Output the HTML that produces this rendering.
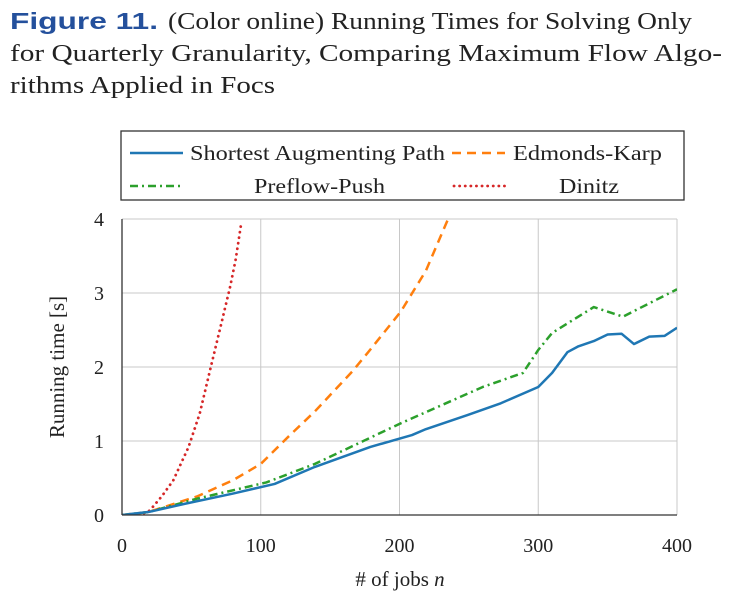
<!DOCTYPE html>
<html><head><meta charset="utf-8"><style>
html,body{margin:0;padding:0;background:#fff;}
svg{display:block;}
</style></head><body>
<svg id="chart" width="730" height="597" viewBox="0 0 730 597" font-family="Liberation Serif, serif" fill="#222">
<g>
<text x="10" y="29" font-family="Liberation Sans, Arial, sans-serif" font-weight="bold" font-size="23" fill="#24509c" textLength="148" lengthAdjust="spacingAndGlyphs">Figure 11.</text>
<text x="168" y="29" font-size="24" textLength="524" lengthAdjust="spacingAndGlyphs">(Color online) Running Times for Solving Only</text>
<text x="10" y="61" font-size="24" textLength="712" lengthAdjust="spacingAndGlyphs">for Quarterly Granularity, Comparing Maximum Flow Algo-</text>
<text x="10" y="93" font-size="24" textLength="265" lengthAdjust="spacingAndGlyphs">rithms Applied in Focs</text>
</g>
<g id="grid"></g>
<g id="series"></g>
<g id="axes"></g>
<rect x="121" y="131" width="563" height="69" fill="#fff" stroke="#333" stroke-width="1.3"/>
<g>
<g><line x1="130" y1="153" x2="183" y2="153" stroke="#1f77b4" stroke-width="2.5"/><text x="190" y="160" font-size="21" textLength="255" lengthAdjust="spacingAndGlyphs">Shortest Augmenting Path</text></g>
<g><line x1="452" y1="153" x2="505" y2="153" stroke="#ff7f0e" stroke-width="2.5" stroke-dasharray="9,6"/><text x="513" y="160" font-size="21" textLength="149" lengthAdjust="spacingAndGlyphs">Edmonds-Karp</text></g>
<g><line x1="130" y1="186" x2="183" y2="186" stroke="#2ca02c" stroke-width="2.5" stroke-dasharray="8,4,2,4"/><text x="254" y="193" font-size="21" textLength="131" lengthAdjust="spacingAndGlyphs">Preflow-Push</text></g>
<g><line x1="454" y1="186" x2="505" y2="186" stroke="#d62728" stroke-width="2.8" stroke-linecap="round" stroke-dasharray="0.1,5.5"/><text x="559" y="193" font-size="21" textLength="60" lengthAdjust="spacingAndGlyphs">Dinitz</text></g>
</g>
<text x="400" y="586" font-size="21" text-anchor="middle"># of jobs <tspan font-style="italic">n</tspan></text>
<text transform="translate(64,367) rotate(-90)" font-size="21" text-anchor="middle">Running time [s]</text>
</svg>
<script>
const xTicks=[0,100,200,300,400];
const yTicks=[0,1,2,3,4];
const sapX=[0,19,45,80,110,139,179,209,219,249,273,300,310,321,329,340,350,360,369,380,391,400];
const sapY=[0,0.04,0.15,0.29,0.42,0.65,0.92,1.08,1.16,1.35,1.51,1.73,1.92,2.20,2.28,2.35,2.44,2.45,2.31,2.41,2.42,2.53];
const ppX=[0,19,54,104,139,201,260,289,300,310,340,361,400];
const ppY=[0,0.04,0.22,0.44,0.69,1.24,1.73,1.92,2.23,2.46,2.81,2.68,3.05];
const ekX=[0,19,54,80,100,120,139,166,177,201,219,235];
const ekY=[0,0.04,0.25,0.47,0.69,1.06,1.40,1.94,2.19,2.75,3.30,4.0];
const diX=[0,13,20,29,37,48,56,64,72,78,82,86];
const diY=[0,0,0.06,0.26,0.47,0.92,1.37,2.0,2.62,3.09,3.46,3.95];
const X0=122,X1=677,Y0=515,Y1=219;
const sx=v=>X0+(v-0)/400*(X1-X0);
const sy=v=>Y0-(v/4)*(Y0-Y1);
const NS="http://www.w3.org/2000/svg";
function mk(tag,parent,attrs){const e=document.createElementNS(NS,tag);for(const k in attrs)e.setAttribute(k,attrs[k]);parent.appendChild(e);return e;}
const grid=document.getElementById('grid'),axes=document.getElementById('axes'),ser=document.getElementById('series');
xTicks.forEach(t=>{
 const g=mk('line',grid,{x1:sx(t),x2:sx(t),y1:Y1,y2:Y0,stroke:'#c8c8c8','stroke-width':1});
 
 
 const l=mk('text',axes,{x:sx(t),y:552,'font-size':20,'text-anchor':'middle'});
 l.textContent=t;
 
 
});
yTicks.forEach(t=>{
 const g=mk('line',grid,{x1:X0,x2:X1,y1:sy(t),y2:sy(t),stroke:'#c8c8c8','stroke-width':1});
 
 
 const l=mk('text',axes,{x:104,y:sy(t)+7,'font-size':20,'text-anchor':'end'});
 l.textContent=t;
 
 
});
const ax1=mk('line',axes,{x1:X0,x2:X0,y1:Y1,y2:Y0,stroke:'#333','stroke-width':1.3});


const ax2=mk('line',axes,{x1:X0,x2:X1,y1:Y0,y2:Y0,stroke:'#333','stroke-width':1.3});


const clip=mk('clipPath',document.getElementById('chart'),{id:'pc'});
mk('rect',clip,{x:X0,y:Y1,width:X1-X0,height:Y0-Y1});
function line(xs,ys,color,dash,name,cap){
 const p=mk('polyline',ser,{points:xs.map((x,i)=>sx(x)+','+sy(ys[i])).join(' '),fill:'none',stroke:color,'stroke-width':cap?2.8:2.5,'stroke-dasharray':dash,'stroke-linecap':cap||'butt','clip-path':'url(#pc)','stroke-linejoin':'round'});
 
 
}
line(diX,diY,'#d62728','0.1,5.5','line-dinitz','round');
line(ekX,ekY,'#ff7f0e','9,6','line-edmonds-karp');
line(ppX,ppY,'#2ca02c','8,4,2,4','line-preflow-push');
line(sapX,sapY,'#1f77b4','none','line-shortest-augmenting-path');
</script>
</body></html>
